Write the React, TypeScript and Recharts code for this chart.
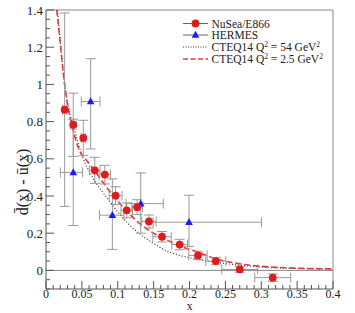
import React from 'react';
import { ComposedChart, Line, Scatter, XAxis, YAxis, ErrorBar, ReferenceLine, Legend } from 'recharts';

// NuSea/E866 points
const nuseaX = [0.026, 0.038, 0.052, 0.068, 0.082, 0.097, 0.1125, 0.127, 0.1435, 0.1617, 0.1863, 0.2118, 0.2367, 0.27, 0.316];
const nuseaY = [0.864, 0.783, 0.712, 0.538, 0.515, 0.402, 0.323, 0.34, 0.263, 0.181, 0.139, 0.0805, 0.05, 0.005, -0.039];
const nuseaXErr = [0.003, 0.004, 0.003, 0.0075, 0.008, 0.009, 0.008, 0.0075, 0.01, 0.0128, 0.011, 0.0128, 0.014, 0.025, 0.025];
const nuseaYErr = [0.52, 0.17, 0.095, 0.07, 0.05, 0.048, 0.04, 0.04, 0.035, 0.028, 0.028, 0.022, 0.02, 0.015, 0.02];

// HERMES points
const hermesX = [0.038, 0.0622, 0.0925, 0.132, 0.1993];
const hermesY = [0.527, 0.908, 0.297, 0.359, 0.259];
const hermesXErrLo = [0.018, 0.013, 0.018, 0.0205, 0.05];
const hermesXErrHi = [0.013, 0.013, 0.016, 0.0315, 0.101];
const hermesYErrLo = [0.286, 0.255, 0.184, 0.159, 0.13];
const hermesYErrHi = [0.286, 0.23, 0.195, 0.165, 0.145];

// CTEQ14 Q^2 = 54 GeV^2 (dotted)
const cteq54X = [0.016, 0.021, 0.026, 0.033, 0.04, 0.052, 0.065, 0.085, 0.1, 0.115, 0.131, 0.15, 0.168, 0.187, 0.21, 0.24, 0.27, 0.3, 0.35, 0.4];
const cteq54Y = [1.4, 1.18, 1.0, 0.85, 0.75, 0.6, 0.5, 0.39, 0.315, 0.25, 0.195, 0.145, 0.105, 0.08, 0.06, 0.042, 0.028, 0.018, 0.01, 0.006];

// CTEQ14 Q^2 = 2.5 GeV^2 (dashed)
const cteq25X = [0.015, 0.0205, 0.025, 0.031, 0.038, 0.046, 0.057, 0.068, 0.08, 0.094, 0.11, 0.131, 0.15, 0.17, 0.187, 0.214, 0.237, 0.26, 0.3, 0.35, 0.4];
const cteq25Y = [1.4, 1.2, 1.03, 0.87, 0.75, 0.65, 0.59, 0.535, 0.47, 0.4, 0.33, 0.25, 0.2, 0.16, 0.13, 0.095, 0.062, 0.042, 0.022, 0.012, 0.008];

// axis ticks
const xTicks = [0, 0.01, 0.02, 0.03, 0.04, 0.05, 0.06, 0.07, 0.08, 0.09, 0.1, 0.11, 0.12, 0.13, 0.14, 0.15, 0.16, 0.17, 0.18, 0.19, 0.2, 0.21, 0.22, 0.23, 0.24, 0.25, 0.26, 0.27, 0.28, 0.29, 0.3, 0.31, 0.32, 0.33, 0.34, 0.35, 0.36, 0.37, 0.38, 0.39, 0.4];
const yTicks = [-0.1, -0.05, 0, 0.05, 0.1, 0.15, 0.2, 0.25, 0.3, 0.35, 0.4, 0.45, 0.5, 0.55, 0.6, 0.65, 0.7, 0.75, 0.8, 0.85, 0.9, 0.95, 1, 1.05, 1.1, 1.15, 1.2, 1.25, 1.3, 1.35, 1.4];

const nuseaData = nuseaX.map((x, i) => ({ x, y: nuseaY[i], ex: nuseaXErr[i], ey: nuseaYErr[i] }));
const hermesData = hermesX.map((x, i) => ({ x, y: hermesY[i], ex: [hermesXErrLo[i], hermesXErrHi[i]], ey: [hermesYErrLo[i], hermesYErrHi[i]] }));
const cteq54Data = cteq54X.map((x, i) => ({ x, y: cteq54Y[i] }));
const cteq25Data = cteq25X.map((x, i) => ({ x, y: cteq25Y[i] }));

const FONT = 'Liberation Serif';
const AXIS = '#555';
const RED = '#e31a1c';
const BLUE = '#1a1aff';
const ERR = '#999';
const DASHRED = '#e33b3b';

const fmt = (v: number) => String(Math.round(v * 100) / 100);

const XTick = (props: any) => {
  const { x, y, payload } = props;
  const v = payload.value;
  const major = Math.round(v * 100) % 5 === 0;
  return (
    <g>
      <line x1={x} x2={x} y1={y} y2={y - (major ? 8 : 4)} stroke={AXIS} strokeWidth={1} />
      {major && (
        <text x={x} y={y + 8.5} textAnchor="middle" style={{ fontFamily: FONT, fontSize: 12 }} fill="#222">
          {fmt(v)}
        </text>
      )}
    </g>
  );
};

const YTick = (props: any) => {
  const { x, y, payload } = props;
  const v = payload.value;
  const major = Math.round(v * 100) % 20 === 0;
  return (
    <g>
      <line x1={x} x2={x + (major ? 8 : 4)} y1={y} y2={y} stroke={AXIS} strokeWidth={1} />
      {major && (
        <text x={x - 3} y={y + 4.5} textAnchor="end" style={{ fontFamily: FONT, fontSize: 13 }} fill="#222">
          {fmt(v)}
        </text>
      )}
    </g>
  );
};

const CircleShape = (p: any) => <circle cx={p.cx} cy={p.cy} r={3.9} fill={RED} />;
const TriangleShape = (p: any) => (
  <polygon
    points={`${p.cx},${p.cy - 4.2} ${p.cx - 3.8},${p.cy + 2.8} ${p.cx + 3.8},${p.cy + 2.8}`}
    fill={BLUE}
  />
);

const YLabel = (props: any) => {
  const vb = props.viewBox || { x: 0, y: 10 };
  const cx = vb.x + 22.5;
  const cy = vb.y + 172;
  return (
    <text
      x={cx}
      y={cy}
      transform={`rotate(-90 ${cx} ${cy})`}
      textAnchor="middle"
      dominantBaseline="central"
      style={{ fontFamily: FONT, fontSize: 16 }}
      fill="#222"
    >
      {'d\u0304(x) - u\u0304(x)'}
    </text>
  );
};

const XLabel = (props: any) => {
  const vb = props.viewBox || { x: 46, y: 289, width: 287 };
  return (
    <text x={vb.x + vb.width / 2} y={vb.y + 20.5} textAnchor="middle" style={{ fontFamily: FONT, fontSize: 11.5 }} fill="#222">
      x
    </text>
  );
};

const Sup = ({ children }: any) => (
  <tspan style={{ fontSize: 7.5 }} dy={-4.5}>
    {children}
  </tspan>
);

const LegendContent = () => {
  const rows = [11.5, 23, 35, 47];
  const tx = 36.5;
  const ts = { fontFamily: FONT, fontSize: 11.5 };
  return (
    <svg width={175} height={60} style={{ display: 'block' }}>
      <line x1={8} x2={33} y1={rows[0]} y2={rows[0]} stroke="#666" strokeWidth={1} />
      <circle cx={20.5} cy={rows[0]} r={3.9} fill={RED} />
      <text x={tx} y={rows[0] + 4} style={ts} fill="#222">NuSea/E866</text>

      <line x1={8} x2={33} y1={rows[1]} y2={rows[1]} stroke="#666" strokeWidth={1} />
      <polygon points={`20.5,${rows[1] - 4.2} 16.7,${rows[1] + 2.8} 24.3,${rows[1] + 2.8}`} fill={BLUE} />
      <text x={tx} y={rows[1] + 4} style={ts} fill="#222">HERMES</text>

      <line x1={8} x2={33} y1={rows[2]} y2={rows[2]} stroke="#333" strokeWidth={1} strokeDasharray="1 1.5" />
      <text x={tx} y={rows[2] + 4} style={ts} fill="#222">
        CTEQ14 Q<Sup>2</Sup>
        <tspan dy={4.5}> = 54 GeV</tspan>
        <Sup>2</Sup>
      </text>

      <line x1={8} x2={33} y1={rows[3]} y2={rows[3]} stroke={DASHRED} strokeWidth={1.5} strokeDasharray="5 2.5" />
      <text x={tx} y={rows[3] + 4} style={ts} fill="#222">
        CTEQ14 Q<Sup>2</Sup>
        <tspan dy={4.5}> = 2.5 GeV</tspan>
        <Sup>2</Sup>
      </text>
    </svg>
  );
};

export default function App() {
  return (
    <div style={{ position: 'absolute', left: 0, top: 0, width: 355, height: 313, background: '#fff' }}>
      <ComposedChart width={355} height={313} margin={{ top: 10, right: 22, left: 0, bottom: 0 }}>
        <XAxis
          dataKey="x"
          type="number"
          domain={[0, 0.4]}
          ticks={xTicks}
          interval={0}
          tickSize={0}
          tickMargin={0}
          tickLine={false}
          axisLine={{ stroke: AXIS }}
          tick={<XTick />}
          height={24}
          allowDataOverflow
          label={<XLabel />}
        />
        <YAxis
          dataKey="y"
          type="number"
          domain={[-0.1, 1.4]}
          ticks={yTicks}
          interval={0}
          tickSize={0}
          tickMargin={0}
          tickLine={false}
          axisLine={{ stroke: AXIS }}
          tick={<YTick />}
          width={46}
          allowDataOverflow
          label={<YLabel />}
        />
        <ReferenceLine y={0} stroke="#888" strokeWidth={1} />
        <ReferenceLine y={1.4} stroke="#888" strokeWidth={1} />
        <ReferenceLine x={0.4} stroke="#888" strokeWidth={1} />
        <Line
          data={cteq54Data}
          dataKey="y"
          type="monotone"
          stroke="#333"
          strokeWidth={1.2}
          strokeDasharray="1 2"
          dot={false}
          activeDot={false}
          isAnimationActive={false}
        />
        <Line
          data={cteq25Data}
          dataKey="y"
          type="monotone"
          stroke={DASHRED}
          strokeWidth={1.6}
          strokeDasharray="6 3"
          dot={false}
          activeDot={false}
          isAnimationActive={false}
        />
        <Scatter data={hermesData} dataKey="y" shape={<TriangleShape />} isAnimationActive={false}>
          <ErrorBar dataKey="ex" direction="x" width={5} stroke={ERR} strokeWidth={1} />
          <ErrorBar dataKey="ey" direction="y" width={5} stroke={ERR} strokeWidth={1} />
        </Scatter>
        <Scatter data={nuseaData} dataKey="y" shape={<CircleShape />} isAnimationActive={false}>
          <ErrorBar dataKey="ex" direction="x" width={5} stroke={ERR} strokeWidth={1} />
          <ErrorBar dataKey="ey" direction="y" width={5} stroke={ERR} strokeWidth={1} />
        </Scatter>
        <Legend
          layout="vertical"
          align="center"
          verticalAlign="middle"
          content={<LegendContent />}
          wrapperStyle={{ left: 175, top: 12, width: 175, height: 60 }}
        />
      </ComposedChart>
    </div>
  );
}
